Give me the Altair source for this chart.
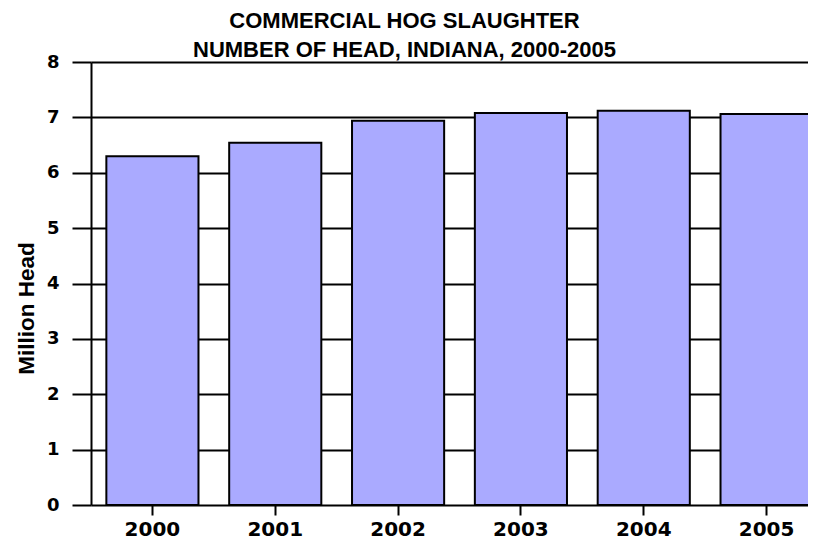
import altair as alt
import pandas as pd

years = ["2000", "2001", "2002", "2003", "2004", "2005"]
million_head = [6.30, 6.54, 6.94, 7.08, 7.12, 7.06]
y_ticks = [0, 1, 2, 3, 4, 5, 6, 7, 8]

df = pd.DataFrame({"year": years, "value": million_head})

chart = alt.Chart(df).mark_bar(
    color="#AAAAFF", stroke="black", strokeWidth=2
).encode(
    x=alt.X("year:N", sort=years, title=None,
            scale=alt.Scale(paddingInner=0.25, paddingOuter=0.125),
            axis=alt.Axis(labelAngle=0, labelFont="DejaVu Sans", labelFontWeight="bold",
                          labelFontSize=20, labelColor="black", labelBaseline="alphabetic",
                          labelPadding=20, tickSize=10, tickWidth=2, tickColor="black",
                          domain=False, grid=False)),
    y=alt.Y("value:Q", title="Million Head",
            scale=alt.Scale(domain=[0, 8], nice=False),
            axis=alt.Axis(values=y_ticks, format="d", labelFont="DejaVu Sans",
                          labelFontWeight="bold", labelFontSize=18, labelColor="black",
                          labelPadding=13, tickSize=19, tickWidth=2, tickColor="black",
                          domainColor="black", domainWidth=2,
                          grid=True, gridColor="black", gridWidth=2, gridOpacity=1,
                          titleFont="Liberation Sans",
                          titleFontWeight="bold", titleFontSize=22.5, titleColor="black",
                          titleAngle=270, titleBaseline="alphabetic", titleAlign="center",
                          titleX=-58, titleY=246)),
).properties(
    width=737,
    height=443,
    autosize=alt.AutoSizeParams(type="none"),
    padding={"left": 83, "top": 54, "right": -20, "bottom": 37},
    title=alt.TitleParams(
        text=["COMMERCIAL HOG SLAUGHTER", "NUMBER OF HEAD, INDIANA, 2000-2005"],
        font="Liberation Sans", fontSize=22, fontWeight="bold", color="black",
        anchor="middle", dx=-55, lineHeight=29, offset=-9,
    ),
).configure_view(stroke=None)

chart.save("out.html", embed_options={"renderer": "svg", "actions": False})
